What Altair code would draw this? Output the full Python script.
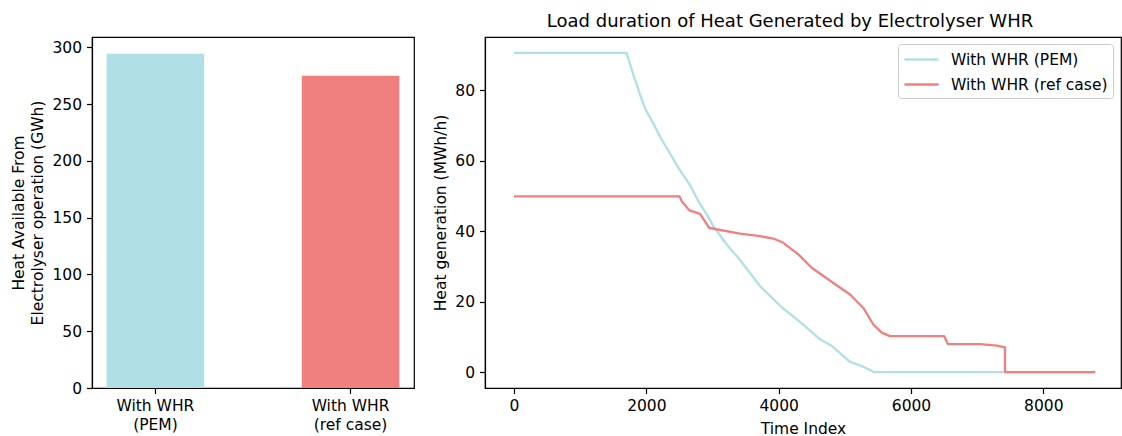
import altair as alt
import pandas as pd

# ---- data ----
categories = ["With WHR\n(PEM)", "With WHR\n(ref case)"]
heat_gwh = [294.5, 275.0]
bar_colors = ["#B0E0E6", "#F08080"]

series_names = ["With WHR (PEM)", "With WHR (ref case)"]
line_colors = ["#B0E0E6", "#F08080"]

pem_t = [0, 1700, 1810, 1935, 1985, 2110, 2211, 2361, 2511, 2612, 2662, 2786,
         2937, 3013, 3214, 3416, 3718, 4046, 4273, 4625, 4802, 5079, 5280, 5440, 8784]
pem_h = [90.6, 90.6, 84.0, 77.1, 74.7, 70.4, 66.7, 61.9, 57.2, 54.4, 53.0, 48.5,
         44.0, 41.4, 36.2, 31.8, 24.4, 18.4, 15.0, 9.3, 7.4, 2.9, 1.5, 0.0, 0.0]

ref_t = [0, 2500, 2535, 2650, 2811, 2952, 3416, 3718, 3919, 4070, 4297, 4499, 4826,
         5079, 5280, 5431, 5557, 5683, 6500, 6560, 7044, 7300, 7421, 7421, 8784]
ref_h = [49.9, 49.9, 48.5, 45.9, 44.9, 40.9, 39.3, 38.6, 37.9, 36.7, 33.4, 29.6, 25.3,
         22.0, 18.2, 13.5, 11.2, 10.2, 10.2, 7.9, 7.9, 7.5, 7.0, 0.0, 0.0]

bar_df = pd.DataFrame({"cat": categories, "val": heat_gwh})

rows = []
for name, ts, hs in [(series_names[0], pem_t, pem_h), (series_names[1], ref_t, ref_h)]:
    for i, (t, h) in enumerate(zip(ts, hs)):
        rows.append({"series": name, "t": t, "h": h, "i": i})
line_df = pd.DataFrame(rows)

FS = 15.5

bars = alt.Chart(bar_df).mark_bar().encode(
    x=alt.X("cat:N", sort=categories,
            scale=alt.Scale(paddingInner=0.5, paddingOuter=0.075),
            axis=alt.Axis(title=None, labelAngle=0, labelExpr="split(datum.label, '\\n')",
                          labelLineHeight=19, labelAlign="center")),
    y=alt.Y("val:Q", scale=alt.Scale(domain=[0, 309.2], nice=False),
            axis=alt.Axis(values=[0, 50, 100, 150, 200, 250, 300],
                          title=["Heat Available From", "Electrolyser operation (GWh)"],
                          titlePadding=6, titleLineHeight=19)),
    color=alt.Color("cat:N", scale=alt.Scale(domain=categories, range=bar_colors), legend=None),
).properties(width=322, height=351)

lines = alt.Chart(line_df).mark_line(strokeWidth=2.3, strokeJoin="round").encode(
    x=alt.X("t:Q", scale=alt.Scale(domain=[-439, 9174], nice=False, zero=False),
            axis=alt.Axis(values=[0, 2000, 4000, 6000, 8000], format="d", title="Time Index",
                          titlePadding=7)),
    y=alt.Y("h:Q", scale=alt.Scale(domain=[-4.53, 95.13], nice=False, zero=False),
            axis=alt.Axis(values=[0, 20, 40, 60, 80], title="Heat generation (MWh/h)",
                          titlePadding=6)),
    color=alt.Color("series:N", scale=alt.Scale(domain=series_names, range=line_colors),
                    legend=alt.Legend(title=None, orient="none", legendX=413, legendY=7,
                                      strokeColor="#cccccc", fillColor="white", cornerRadius=3,
                                      padding=5, symbolType="M-1.0,0H2.8",
                                      symbolStrokeWidth=2.3,
                                      symbolSize=324, labelFontSize=FS, rowPadding=6,
                                      labelOffset=27, labelColor="black",
                                      labelFont="DejaVu Sans")),
    order=alt.Order("i:Q"),
).properties(
    width=636, height=351,
    title=alt.TitleParams("Load duration of Heat Generated by Electrolyser WHR",
                          fontSize=18, fontWeight="normal", anchor="middle", offset=6,
                          dx=-13, color="black"),
)

chart = alt.hconcat(bars, lines, spacing=71, bounds="flush").resolve_scale(
    color="independent"
).resolve_legend(
    color="independent"
).properties(
    padding={"left": 11, "top": 12, "right": 0, "bottom": 0},
    background="white",
).configure(
    font="DejaVu Sans",
).configure_view(
    stroke="black", strokeWidth=1.2,
).configure_axis(
    grid=False, domainColor="black", domainWidth=1.2, tickColor="black", tickWidth=1.2,
    tickSize=5.5, labelPadding=5, labelFontSize=FS, titleFontSize=FS,
    titleFontWeight="normal", labelColor="black", titleColor="black",
    labelFont="DejaVu Sans", titleFont="DejaVu Sans",
)

chart.save("out.html", embed_options={"renderer": "svg", "actions": False})
